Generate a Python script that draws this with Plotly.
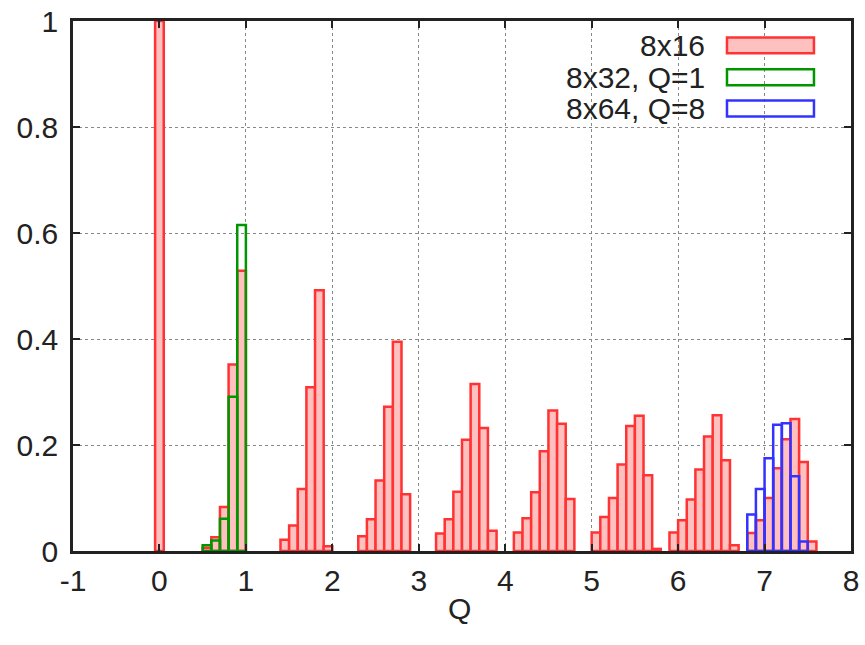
import plotly.graph_objects as go

# ---- data (bin centres, heights) ----
q_8x16 = [0.0,
          0.55, 0.65, 0.75, 0.85, 0.95,
          1.45, 1.55, 1.65, 1.75, 1.85, 1.95,
          2.35, 2.45, 2.55, 2.65, 2.75, 2.85,
          3.25, 3.35, 3.45, 3.55, 3.65, 3.75, 3.85,
          4.15, 4.25, 4.35, 4.45, 4.55, 4.65, 4.75,
          5.05, 5.15, 5.25, 5.35, 5.45, 5.55, 5.65, 5.75,
          5.95, 6.05, 6.15, 6.25, 6.35, 6.45, 6.55, 6.65,
          6.85, 6.95, 7.05, 7.15, 7.25, 7.35, 7.45, 7.55]
p_8x16 = [1.0,
          0.006, 0.026, 0.083, 0.352, 0.529,
          0.021, 0.048, 0.117, 0.309, 0.492, 0.009,
          0.028, 0.060, 0.133, 0.272, 0.395, 0.107,
          0.033, 0.060, 0.112, 0.210, 0.315, 0.232, 0.038,
          0.035, 0.062, 0.111, 0.188, 0.265, 0.240, 0.098,
          0.035, 0.064, 0.100, 0.163, 0.236, 0.255, 0.143, 0.004,
          0.035, 0.058, 0.097, 0.154, 0.216, 0.256, 0.171, 0.011,
          0.034, 0.058, 0.100, 0.156, 0.211, 0.249, 0.168, 0.018]

q_8x32 = [0.55, 0.65, 0.75, 0.85, 0.95]
p_8x32 = [0.011, 0.020, 0.061, 0.291, 0.615]

q_8x64 = [6.85, 6.95, 7.05, 7.15, 7.25, 7.35, 7.45]
p_8x64 = [0.069, 0.117, 0.175, 0.238, 0.241, 0.141, 0.018]

bin_width = 0.1
labels = ["8x16", "8x32, Q=1", "8x64, Q=8"]
x_title = "Q"
x_ticks = list(range(-1, 9))
x_ticktext = ["-1", "0", "1", "2", "3", "4", "5", "6", "7", "8"]
y_ticks = [0, 0.2, 0.4, 0.6, 0.8, 1]
y_ticktext = ["0", "0.2", "0.4", "0.6", "0.8", "1"]

RED_LINE = "rgb(255,51,51)"
RED_FILL = "rgb(255,192,192)"
GREEN = "rgb(0,150,0)"
BLUE = "rgb(51,51,255)"
FONT = "Liberation Sans, Arial, sans-serif"
TXT = "#222222"
FS = 30

fig = go.Figure()
fig.add_trace(go.Bar(x=q_8x16, y=p_8x16, width=bin_width, name=labels[0],
                     marker=dict(color=RED_FILL, line=dict(color=RED_LINE, width=2.5))))
fig.add_trace(go.Bar(x=q_8x32, y=p_8x32, width=bin_width, name=labels[1],
                     marker=dict(color="rgba(0,0,0,0)", line=dict(color=GREEN, width=2.5))))
fig.add_trace(go.Bar(x=q_8x64, y=p_8x64, width=bin_width, name=labels[2],
                     marker=dict(color="rgba(0,0,0,0)", line=dict(color=BLUE, width=2.5))))

# gnuplot-style key: text right-aligned, sample box on the right
rows_y = [0.954, 0.894, 0.835]
fills = [RED_FILL, "rgba(0,0,0,0)", "rgba(0,0,0,0)"]
lines = [RED_LINE, GREEN, BLUE]
for lab, yc, fc, lc in zip(labels, rows_y, fills, lines):
    fig.add_annotation(x=0.815, y=yc, xref="paper", yref="paper", text=lab,
                       showarrow=False, xanchor="right", yanchor="middle",
                       font=dict(size=FS, family=FONT, color=TXT))
    fig.add_shape(type="rect", xref="paper", yref="paper",
                  x0=0.8406, x1=0.9524, y0=yc - 0.0150, y1=yc + 0.0150,
                  fillcolor=fc, line=dict(color=lc, width=2.5))

# x-axis title placed like gnuplot's xlabel
fig.add_annotation(x=0.497, y=-0.108, xref="paper", yref="paper", text=x_title,
                   showarrow=False, xanchor="center", yanchor="middle",
                   font=dict(size=FS, family=FONT, color=TXT))

axis_common = dict(showline=True, mirror="ticks", linecolor="#222222", linewidth=2.5,
                   ticks="inside", ticklen=7, tickwidth=1.5, tickcolor="#222222",
                   showgrid=True, gridcolor="#888888", griddash="dot", gridwidth=1,
                   zeroline=False, automargin=False,
                   tickfont=dict(size=FS, family=FONT, color=TXT))

fig.update_layout(
    width=865, height=645,
    margin=dict(l=73, r=14, t=21, b=94),
    paper_bgcolor="white", plot_bgcolor="white",
    barmode="overlay", showlegend=False,
    font=dict(family=FONT, color=TXT),
    xaxis=dict(range=[-1, 8], tickvals=x_ticks, ticktext=x_ticktext, ticklabelstandoff=1,
               **axis_common),
    yaxis=dict(range=[0, 1], tickvals=y_ticks, ticktext=y_ticktext, ticklabelstandoff=6,
               **axis_common),
)

fig.write_html("out.html")
